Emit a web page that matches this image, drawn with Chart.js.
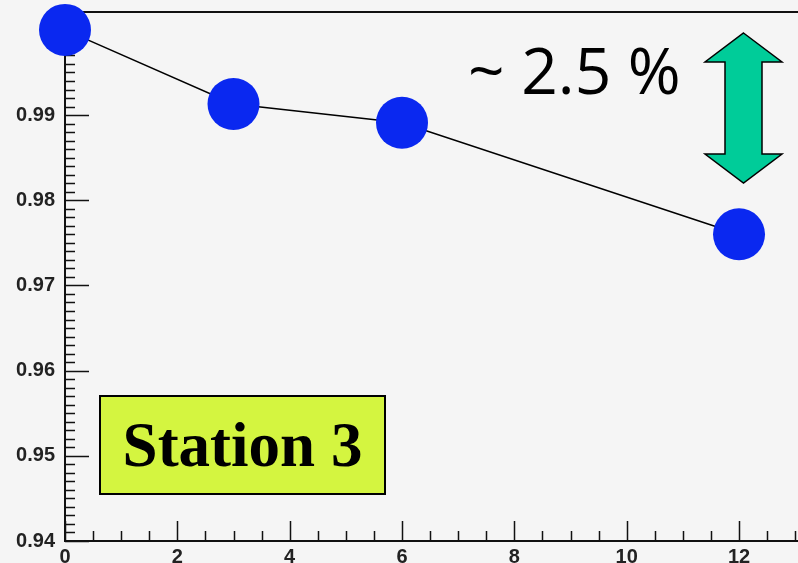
<!DOCTYPE html>
<html>
<head>
<meta charset="utf-8">
<script src="https://cdn.jsdelivr.net/npm/chart.js@4"></script>
<style>
  html, body { margin: 0; padding: 0; background: #f5f5f5; }
  #wrap { position: relative; width: 798px; height: 563px; overflow: hidden; }
  canvas { display: block; }
  .note {
    position: absolute; left: 468px; top: 38px;
    font-family: "Open Sans", sans-serif; font-size: 64px; color: #000;
    white-space: nowrap; line-height: 1;
  }
  .station {
    position: absolute; left: 99px; top: 395px; width: 283px; height: 96px;
    background: #d4f540; border: 2px solid #000;
    font-family: "Liberation Serif", "Times New Roman", serif; font-weight: bold;
    font-size: 63px; line-height: 96px; text-align: center; color: #000;
  }
  #arrow { position: absolute; left: 700px; top: 28px; }
</style>
</head>
<body>
<div id="wrap">
  <canvas id="chart" width="798" height="563"></canvas>
  <div class="note">~ 2.5 %</div>
  <svg id="arrow" width="90" height="165">
    <polygon points="43.5,5 82,34 62,34 62,126 82,126 43.5,155 5,126 25,126 25,34 5,34"
             fill="#00cc99" stroke="#000" stroke-width="1.5"/>
  </svg>
  <div class="station">Station 3</div>
</div>
<script>
// data
const xValues = [0, 3, 6, 12];
const yValues = [1.0, 0.9913, 0.9891, 0.9760];
const xTicks = [0, 2, 4, 6, 8, 10, 12];
const yTicks = [0.94, 0.95, 0.96, 0.97, 0.98, 0.99];

const X_MIN = 0, X_MAX = 13.05;
const Y_MIN = 0.94, Y_MAX = 1.0021;

// ROOT-style frame: axis lines, top line, ticks pointing inward
const frame = {
  id: 'frame',
  beforeDatasetsDraw(chart) {
    const { ctx, chartArea: a, scales: { x, y } } = chart;
    ctx.save();
    ctx.strokeStyle = '#111';

    ctx.lineWidth = 2;
    ctx.beginPath();
    ctx.moveTo(a.left, a.top);
    ctx.lineTo(a.right, a.top);
    ctx.moveTo(a.left, a.top);
    ctx.lineTo(a.left, a.bottom);
    ctx.lineTo(a.right, a.bottom);
    ctx.stroke();

    ctx.lineWidth = 1.5;
    ctx.beginPath();
    // y ticks: major every 0.01, minor every 0.001
    for (let i = 0; i <= 62; i++) {
      const v = Y_MIN + i * 0.001;
      if (v > Y_MAX) break;
      const py = Math.round(y.getPixelForValue(v)) + 0.5;
      const len = i % 10 === 0 ? 24 : 10;
      ctx.moveTo(a.left, py);
      ctx.lineTo(a.left + len, py);
    }
    // x ticks: major every 2, minor every 0.5
    for (let i = 0; i <= 26; i++) {
      const v = X_MIN + i * 0.5;
      if (v > X_MAX) break;
      const px = Math.round(x.getPixelForValue(v)) + 0.5;
      const len = i % 4 === 0 ? 20 : 10;
      ctx.moveTo(px, a.bottom);
      ctx.lineTo(px, a.bottom - len);
    }
    ctx.stroke();
    ctx.restore();
  }
};

new Chart(document.getElementById('chart'), {
  type: 'scatter',
  data: {
    datasets: [{
      data: xValues.map((v, i) => ({ x: v, y: yValues[i] })),
      showLine: true,
      borderColor: '#000',
      borderWidth: 1.5,
      pointRadius: 26,
      pointHoverRadius: 26,
      pointBackgroundColor: '#0a28f0',
      pointBorderWidth: 0,
      clip: false
    }]
  },
  options: {
    responsive: false,
    animation: false,
    events: [],
    layout: { autoPadding: false, padding: { top: 12, right: 0, left: 0, bottom: 0 } },
    plugins: { legend: { display: false }, tooltip: { enabled: false } },
    scales: {
      x: {
        type: 'linear', min: X_MIN, max: X_MAX,
        grid: { display: false, drawTicks: false },
        border: { display: false },
        afterFit(s) { s.height = 22; s.paddingLeft = 0; s.paddingRight = 0; },
        afterBuildTicks(s) { s.ticks = xTicks.map(v => ({ value: v })); },
        ticks: {
          padding: 4, color: '#222', maxRotation: 0, autoSkip: false,
          font: { family: 'Liberation Sans, Arial, sans-serif', size: 20, weight: 'bold' }
        }
      },
      y: {
        type: 'linear', min: Y_MIN, max: Y_MAX,
        grid: { display: false, drawTicks: false },
        border: { display: false },
        afterFit(s) { s.width = 65; s.paddingTop = 0; s.paddingBottom = 0; },
        afterBuildTicks(s) { s.ticks = yTicks.map(v => ({ value: v })); },
        ticks: {
          padding: 10, color: '#222', autoSkip: false,
          callback: v => v.toFixed(2),
          font: { family: 'Liberation Sans, Arial, sans-serif', size: 20, weight: 'bold' }
        }
      }
    }
  },
  plugins: [frame]
});
</script>
</body>
</html>
